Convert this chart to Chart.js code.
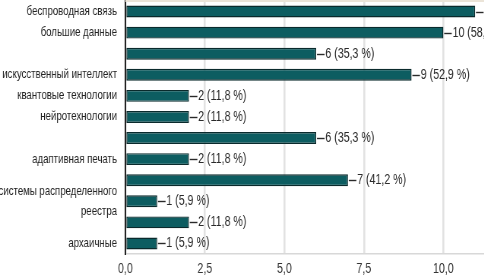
<!DOCTYPE html>
<html>
<head>
<meta charset="utf-8">
<script src="https://cdn.jsdelivr.net/npm/chart.js@4/dist/chart.umd.min.js"></script>
<style>
  html, body { margin: 0; padding: 0; background: #fff; overflow: hidden; }
  #wrap { width: 484px; height: 280px; overflow: hidden; position: relative; }
  /* the source uses a narrow font; squeeze the whole drawing horizontally */
  #chart { transform: scaleX(0.76); transform-origin: 0 0; }
</style>
</head>
<body>
<div id="wrap"><canvas id="chart" width="688" height="280"></canvas></div>
<script>
// Categories, top to bottom (some rows have no caption in the source)
const categories = [
  "беспроводная связь",
  "большие данные",
  "",
  "искусственный интеллект",
  "квантовые технологии",
  "нейротехнологии",
  "",
  "адаптивная печать",
  "",
  ["системы распределенного", "реестра"],
  "",
  "архаичные"
];
const counts = [11, 10, 6, 9, 2, 2, 6, 2, 7, 1, 2, 1];
const totalRespondents = 17;
const xTicks = [0, 2.5, 5, 7.5, 10, 12.5];

const FONT = '"Liberation Sans", Arial, sans-serif';

function fmt(n, digits) {
  return n.toFixed(digits).replace('.', ',');
}

// Value labels "—N (xx,x %)" right of each bar
const barLabels = {
  id: 'barLabels',
  beforeDatasetsDraw(chart) {
    const { ctx, chartArea } = chart;
    ctx.save();
    ctx.fillStyle = '#ebe4d8';
    ctx.fillRect(chartArea.left, 0, chartArea.right - chartArea.left, 2);
    ctx.restore();
  },
  afterDatasetsDraw(chart) {
    const ctx = chart.ctx;
    const meta = chart.getDatasetMeta(0);
    ctx.save();
    ctx.font = '14px ' + FONT;
    ctx.fillStyle = '#2a2a2a';
    ctx.strokeStyle = '#2a2a2a';
    ctx.lineWidth = 1.4;
    ctx.textBaseline = 'middle';
    meta.data.forEach((bar, i) => {
      const v = counts[i];
      const x = bar.x, y = Math.round(bar.y) + 0.5;
      ctx.beginPath();
      ctx.moveTo(x + 1, y);
      ctx.lineTo(x + 11, y);
      ctx.stroke();
      ctx.fillText(v + ' (' + fmt(v / totalRespondents * 100, 1) + ' %)', x + 12, y);
    });
    ctx.restore();
  }
};

new Chart(document.getElementById('chart'), {
  type: 'bar',
  data: {
    labels: categories,
    datasets: [{
      data: counts,
      backgroundColor: '#0d5d61',
      borderColor: '#0a2a2c',
      borderWidth: 1.4,
      borderSkipped: false,
      barPercentage: 0.75,
      categoryPercentage: 0.75
    }]
  },
  options: {
    indexAxis: 'y',
    responsive: false,
    animation: false,
    layout: { padding: { top: 1, right: 0, left: 0, bottom: 0 } },
    plugins: { legend: { display: false }, tooltip: { enabled: false } },
    scales: {
      x: {
        min: 0,
        max: 12.5,
        afterBuildTicks(scale) { scale.ticks = xTicks.map(v => ({ value: v })); },
        afterFit(scale) {
          scale.height = 26;
          scale.paddingLeft = 0;
          scale.paddingRight = 0;
        },
        grid: { color: '#e2e2e2', lineWidth: 2.6, drawTicks: false },
        border: { color: '#d8d8d8', width: 1.5 },
        ticks: {
          padding: 7,
          color: '#333',
          font: { family: FONT, size: 14 },
          callback: v => fmt(v, 1)
        }
      },
      y: {
        afterFit(scale) {
          scale.width = 165;
          scale.paddingTop = 0;
          scale.paddingBottom = 0;
        },
        grid: { display: false },
        border: { color: '#222', width: 2 },
        ticks: {
          autoSkip: false,
          padding: 3,
          color: '#222',
          font: { family: FONT, size: 12.7, lineHeight: 1.56 }
        }
      }
    }
  },
  plugins: [barLabels]
});
</script>
</body>
</html>
